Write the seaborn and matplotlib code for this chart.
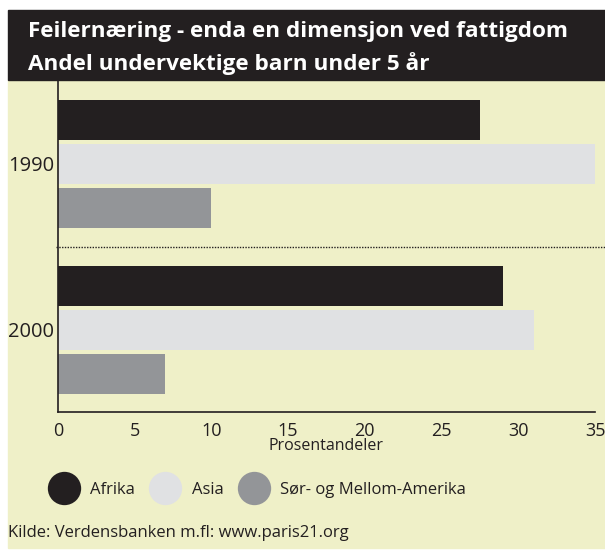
import matplotlib
matplotlib.use("Agg")
import matplotlib.pyplot as plt
import seaborn as sns
import pandas as pd
from matplotlib.patches import Rectangle
from matplotlib.lines import Line2D

# data
years = ["1990", "2000"]
regions = ["Afrika", "Asia", "Sør- og Mellom-Amerika"]
afrika = [27.5, 29]
asia = [35, 31]
sor_amerika = [10, 7]
xticks = [0, 5, 10, 15, 20, 25, 30, 35]

colors = ["#231f20", "#e0e1e3", "#939598"]
beige = "#eff0c8"

df = pd.DataFrame({
    "year": years * 3,
    "region": [r for r in regions for _ in years],
    "value": afrika + asia + sor_amerika,
})

sns.set_style("white")
plt.rcParams["font.family"] = ["Open Sans", "DejaVu Sans"]

fig = plt.figure(figsize=(6.05, 5.5), dpi=100)
W, H = 605, 550

# background panels
fig.patches.append(Rectangle((8 / W, 2 / H), 1 - 8 / W, (548 - 80) / H,
                             transform=fig.transFigure, color=beige, zorder=-2))
fig.patches.append(Rectangle((8 / W, 1 - 80 / H), 1 - 8 / W, 70 / H,
                             transform=fig.transFigure, color="#231f20", zorder=-2))

ax = fig.add_axes([58 / W, 1 - 412 / H, (595 - 58) / W, (412 - 80) / H])
ax.set_facecolor("none")
ax.set_zorder(2)

sns.barplot(data=df, y="year", x="value", hue="region", orient="h",
            palette=colors, width=0.8, gap=0.1, saturation=1,
            edgecolor="none", legend=False, ax=ax)

ax.set_xlim(0, 35)
ax.set_ylim(1.494, -0.506)
ax.axhline(0.5, color="#231f20", lw=1, ls=(0, (1, 1)), xmin=-0.004, xmax=1.04, clip_on=False)

for s in ["top", "right"]:
    ax.spines[s].set_visible(False)
for s in ["left", "bottom"]:
    ax.spines[s].set_color("#231f20")
    ax.spines[s].set_linewidth(1.2)

ax.set_xticks(xticks)
ax.tick_params(axis="x", direction="in", length=8, width=1.2, color="#231f20",
               labelsize=13, pad=7, labelcolor="#231f20")
ax.tick_params(axis="y", length=0, labelsize=14.5, pad=3, labelcolor="#231f20")
ax.set_xlabel("Prosentandeler", fontsize=11.5, color="#231f20", labelpad=-1)
ax.set_ylabel("")

# title
fig.text(28 / W, 1 - 31 / H, "Feilernæring - enda en dimensjon ved fattigdom",
         color="white", fontsize=16.2, fontweight="bold", va="center", ha="left")
fig.text(28 / W, 1 - 64 / H, "Andel undervektige barn under 5 år",
         color="white", fontsize=16.2, fontweight="bold", va="center", ha="left")

# legend
handles = [Line2D([0], [0], marker="o", ls="none", markersize=24,
                  markerfacecolor=c, markeredgecolor="none") for c in colors]
fig.legend(handles, regions, loc="center left", bbox_to_anchor=(32 / W, 1 - 490 / H),
           ncol=3, frameon=False, fontsize=12, handletextpad=0.6,
           columnspacing=0.8, labelcolor="#231f20")

fig.text(8 / W, 1 - 533 / H, "Kilde: Verdensbanken m.fl: www.paris21.org",
         color="#231f20", fontsize=12, va="center", ha="left")

fig.savefig("out.png", dpi=100, facecolor="white")
